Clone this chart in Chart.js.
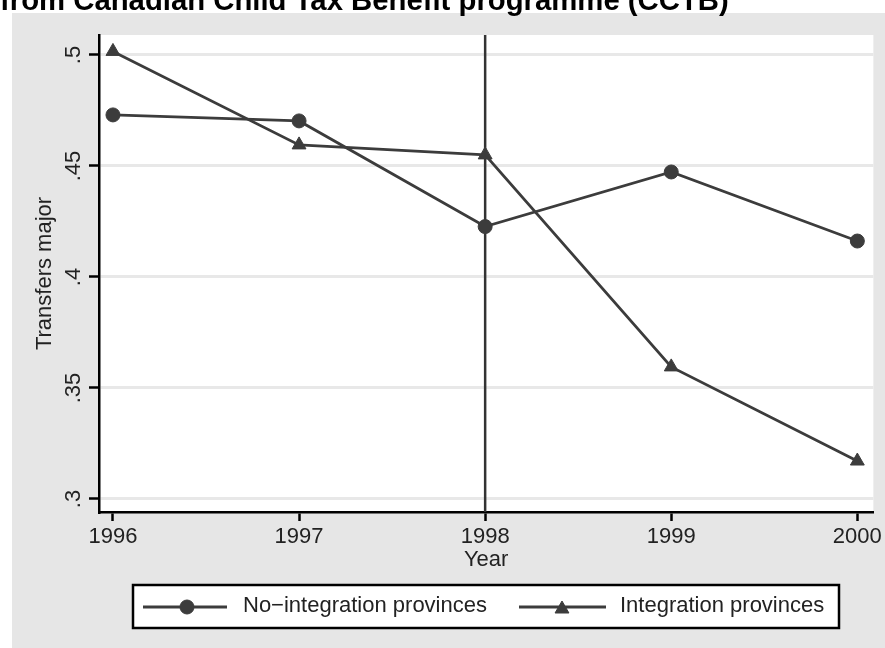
<!DOCTYPE html>
<html>
<head>
<meta charset="utf-8">
<title>Transfers major</title>
<script src="https://cdn.jsdelivr.net/npm/chart.js@4.4.1/dist/chart.umd.min.js"></script>
<style>
  html, body { margin: 0; padding: 0; background: #fff; overflow: hidden; }
  #wrap { position: relative; width: 885px; height: 648px; }
</style>
</head>
<body>
<div id="wrap"><canvas id="chart" width="885" height="648"></canvas></div>
<script>
  // values
  const years = [1996, 1997, 1998, 1999, 2000];
  const noIntegration = [0.473, 0.4703, 0.4227, 0.4473, 0.4162];
  const integration = [0.5016, 0.4595, 0.455, 0.3595, 0.3171];
  const yTicks = [0.3, 0.35, 0.4, 0.45, 0.5];
  const yTickLabels = ['.3', '.35', '.4', '.45', '.5'];
  const reformYear = 1998;
  const seriesNames = ['No\u2212integration provinces', 'Integration provinces'];
  const titleText = 'from Canadian Child Tax Benefit programme (CCTB)';

  const FONT = "'Liberation Sans', Arial, sans-serif";
  const INK = '#3c3c3c';
  Chart.defaults.font.family = FONT;

  const pts = arr => years.map((x, i) => ({x: x, y: arr[i]}));

  function marker(ctx, style, r, x, y) {
    ctx.save();
    ctx.fillStyle = INK;
    ctx.strokeStyle = INK;
    ctx.lineWidth = 1;
    Chart.helpers.drawPoint(ctx, {pointStyle: style, radius: r, rotation: 0, borderWidth: 1}, x, y);
    ctx.restore();
  }

  const stataLook = {
    id: 'stataLook',
    beforeDraw(chart) {
      const c = chart.ctx, a = chart.chartArea;
      c.save();
      c.fillStyle = '#fff';
      c.fillRect(0, 0, chart.width, chart.height);
      c.fillStyle = '#e6e6e6';
      c.fillRect(12, 13, chart.width - 12, chart.height - 13);
      c.fillStyle = '#fff';
      c.fillRect(a.left, a.top, a.right - a.left, a.bottom - a.top);
      c.restore();
    },
    beforeDatasetsDraw(chart) {
      const c = chart.ctx, a = chart.chartArea;
      const x = chart.scales.x.getPixelForValue(reformYear);
      c.save();
      c.strokeStyle = '#333';
      c.lineWidth = 2.5;
      c.beginPath();
      c.moveTo(x, a.top);
      c.lineTo(x, a.bottom);
      c.stroke();
      c.restore();
    },
    afterDraw(chart) {
      const c = chart.ctx, ys = chart.scales.y;
      c.save();
      // rotated y tick labels
      c.fillStyle = '#222';
      c.font = '22px ' + FONT;
      c.textAlign = 'center';
      c.textBaseline = 'alphabetic';
      yTicks.forEach((v, i) => {
        c.save();
        c.translate(80, ys.getPixelForValue(v));
        c.rotate(-Math.PI / 2);
        c.fillText(yTickLabels[i], 0, 0);
        c.restore();
      });

      // legend
      c.fillStyle = '#fff';
      c.fillRect(133, 585, 706, 43);
      c.strokeStyle = '#000';
      c.lineWidth = 2.5;
      c.strokeRect(133, 585, 706, 43);
      const items = [
        {x0: 143, x1: 227, mx: 187, tx: 243, style: 'circle', r: 7},
        {x0: 519, x1: 606, mx: 562, tx: 620, style: 'triangle', r: 8}
      ];
      items.forEach((it, i) => {
        c.strokeStyle = INK;
        c.lineWidth = 2.8;
        c.beginPath();
        c.moveTo(it.x0, 607);
        c.lineTo(it.x1, 607);
        c.stroke();
        marker(c, it.style, it.r, it.mx, it.style === 'triangle' ? 609 : 607);
        c.fillStyle = '#222';
        c.font = '22px ' + FONT;
        c.textAlign = 'left';
        c.textBaseline = 'alphabetic';
        c.fillText(seriesNames[i], it.tx, 612);
      });

      // title, clipped at the top of the picture
      c.fillStyle = '#000';
      c.font = 'bold 29.3px ' + FONT;
      c.textAlign = 'left';
      c.fillText(titleText, 0, 10);
      c.restore();
    }
  };

  new Chart(document.getElementById('chart'), {
    type: 'line',
    data: {
      datasets: [
        {
          label: seriesNames[0],
          data: pts(noIntegration),
          borderColor: INK,
          backgroundColor: INK,
          borderWidth: 2.8,
          pointStyle: 'circle',
          pointRadius: 7,
          pointBorderWidth: 1,
          tension: 0
        },
        {
          label: seriesNames[1],
          data: pts(integration),
          borderColor: INK,
          backgroundColor: INK,
          borderWidth: 2.8,
          pointStyle: 'triangle',
          pointRadius: 8,
          pointBorderWidth: 1,
          tension: 0
        }
      ]
    },
    options: {
      responsive: false,
      animation: false,
      events: [],
      layout: {padding: {left: 0, top: 35, right: 9, bottom: 56}},
      plugins: {
        legend: {display: false},
        tooltip: {enabled: false}
      },
      scales: {
        x: {
          type: 'linear',
          min: 1995.925,
          max: 2000.086,
          afterBuildTicks: s => { s.ticks = years.map(v => ({value: v})); },
          afterFit: s => { s.height = 80; },
          grid: {drawOnChartArea: false, tickLength: 9, tickColor: '#000', tickWidth: 2.5},
          border: {color: '#000', width: 2.5},
          ticks: {
            color: '#222',
            font: {size: 22},
            padding: 3,
            maxRotation: 0,
            autoSkip: false,
            callback: v => String(v)
          },
          title: {display: true, text: 'Year', color: '#222', font: {size: 22}, padding: {top: 0, bottom: 19}}
        },
        y: {
          min: 0.29414,
          max: 0.509,
          afterBuildTicks: s => { s.ticks = yTicks.map(v => ({value: v})); },
          afterFit: s => { s.width = 99; },
          grid: {color: '#e8e8e8', lineWidth: 3, tickLength: 10, tickColor: '#000', tickWidth: 2.5},
          border: {color: '#000', width: 2.5},
          ticks: {display: false},
          title: {display: true, text: 'Transfers major', color: '#222', font: {size: 22}, padding: {top: 32, bottom: 0}}
        }
      }
    },
    plugins: [stataLook]
  });
</script>
</body>
</html>
